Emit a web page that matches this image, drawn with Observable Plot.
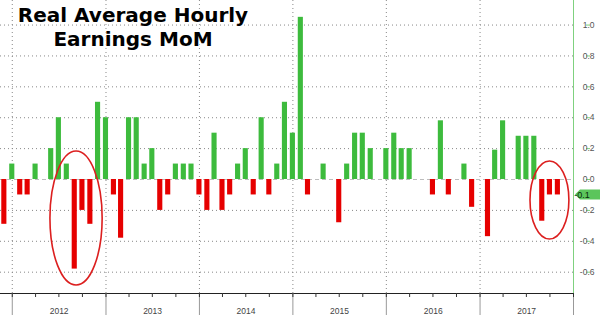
<!DOCTYPE html>
<html>
<head>
<meta charset="utf-8">
<script src="https://cdn.jsdelivr.net/npm/d3@7"></script>
<script src="https://cdn.jsdelivr.net/npm/@observablehq/plot@0.6"></script>
<style>
  html, body { margin: 0; padding: 0; background: #fff; }
  #wrap { position: relative; width: 600px; height: 318px; overflow: hidden; }
  #title {
    position: absolute; left: 0; top: 3px; width: 266px;
    text-align: center; font-family: "DejaVu Sans", sans-serif; font-weight: bold;
    font-size: 20px; line-height: 24px; color: #000;
    text-shadow: 0 0 2px #fff, 0 0 3px #fff, 0 0 4px #fff;
    pointer-events: none;
  }
</style>
</head>
<body>
<div id="wrap">
  <div id="chart"></div>
  <div id="title">Real Average Hourly<br>Earnings MoM</div>
</div>
<script>
// ---- data (one value per month, first slot = Dec 2011, last = Nov 2017) ----
const firstMonth = new Date(Date.UTC(2011, 11, 1));
const values = [
  -0.29,                                                            // 2011-12
   0.1, -0.1, -0.1, 0.1, 0, 0.2, 0.4, 0.1, -0.58, -0.2, -0.29, 0.5, // 2012
   0.4, -0.1, -0.38, 0.4, 0.4, 0.1, 0.2, -0.2, -0.1, 0.1, 0.1, 0.1, // 2013
  -0.1, -0.2, 0.3, -0.2, -0.1, 0.1, 0.2, -0.1, 0.4, -0.1, 0.1, 0.5, // 2014
   0.3, 1.05, -0.1, 0, 0.1, 0, -0.28, 0.1, 0.3, 0.3, 0.2, 0,        // 2015
   0.2, 0.3, 0.2, 0.2, 0, 0, -0.1, 0.38, -0.1, 0, 0.1, -0.18,       // 2016
   0, -0.37, 0.19, 0.38, 0, 0.28, 0.28, 0.28, -0.27, -0.1, -0.1     // 2017
];
const years = [2012, 2013, 2014, 2015, 2016, 2017];
const yTicks = [-0.6, -0.4, -0.2, 0.0, 0.2, 0.4, 0.6, 0.8, 1.0];
const xDomain = [new Date(Date.UTC(2011, 10, 16)), new Date(Date.UTC(2018, 0, 1))];
const yDomain = [-0.738, 1.159];
// annotation ellipses (bounding boxes in data units)
const ellipses = [
  {x1: new Date(Date.UTC(2012, 4, 29)), x2: new Date(Date.UTC(2012, 11, 19)), y1: 0.181, y2: -0.686},
  {x1: new Date(Date.UTC(2017, 6, 17)), x2: new Date(Date.UTC(2017, 11, 16)), y1: 0.117, y2: -0.388}
];

const GREEN = "#3dbb3d", RED = "#e60000", AXISGREEN = "#7fd17f";
const data = values.map((v, i) => ({date: d3.utcMonth.offset(firstMonth, i), value: v}));
const yearStarts = years.map(y => new Date(Date.UTC(y, 0, 1)));
const allYearEdges = yearStarts.concat([new Date(Date.UTC(2018, 0, 1))]);
const midYears = years.map(y => new Date(Date.UTC(y, 6, 2)));
const quarters = d3.utcMonth.every(3).range(new Date(Date.UTC(2012, 0, 1)), new Date(Date.UTC(2018, 0, 2)));

const chart = Plot.plot({
  width: 600,
  height: 318,
  marginTop: 0,
  marginBottom: 25,
  marginLeft: 0,
  marginRight: 27,
  style: {fontFamily: "Liberation Sans, Arial, sans-serif", fontSize: "8.5px", background: "#fff"},
  x: {type: "utc", domain: xDomain, label: null},
  y: {domain: yDomain, label: null},
  marks: [
    Plot.gridY(yTicks.filter(v => v !== 0), {stroke: "#888", strokeOpacity: 1, strokeDasharray: "1,3"}),
    Plot.gridX(yearStarts, {stroke: "#888", strokeOpacity: 1, strokeDasharray: "1,3"}),
    Plot.ruleY([0], {stroke: "#bdbdbd", strokeDasharray: "4,3"}),
    Plot.rectY(data.filter(d => d.value !== 0), {
      x1: d => d3.utcDay.offset(d.date, -10),
      x2: d => d3.utcDay.offset(d.date, 10),
      y: "value",
      fill: d => d.value > 0 ? GREEN : RED
    }),
    Plot.ruleY([yDomain[0]], {stroke: "#222"}),
    Plot.axisX(allYearEdges, {tickSize: 22, tickFormat: () => "", stroke: "#999"}),
    Plot.axisX(quarters, {tickSize: 4, tickFormat: () => "", stroke: "#333"}),
    Plot.axisX(midYears, {tickSize: 0, tickPadding: 14, tickFormat: d3.utcFormat("%Y"), fill: "#444"}),
    Plot.ruleX([xDomain[1]], {stroke: AXISGREEN}),
    Plot.axisY(yTicks, {anchor: "right", tickSize: 4, stroke: AXISGREEN, fill: "#555",
      tickFormat: d => d.toFixed(1), textAnchor: "end", dx: 12})
  ]
});

document.getElementById("chart").appendChild(chart);

// annotations through the plot's own scales
const sx = chart.scale("x"), sy = chart.scale("y");
const svg = d3.select(chart);
for (const e of ellipses) {
  const x1 = sx.apply(e.x1), x2 = sx.apply(e.x2), y1 = sy.apply(e.y1), y2 = sy.apply(e.y2);
  svg.append("ellipse")
    .attr("cx", (x1 + x2) / 2).attr("cy", (y1 + y2) / 2)
    .attr("rx", Math.abs(x2 - x1) / 2).attr("ry", Math.abs(y2 - y1) / 2)
    .attr("fill", "none").attr("stroke", "#dc1f1f").attr("stroke-width", 1.6);
}
// last-value tag on the right axis
const last = values[values.length - 1];
const ly = sy.apply(last), lx = sx.apply(xDomain[1]);
svg.append("path")
  .attr("d", `M${lx + 2},${ly} L${lx + 7},${ly - 5} H600 V${ly + 5} H${lx + 7} Z`)
  .attr("fill", "#5cc55c");
svg.append("text")
  .attr("x", lx + 9).attr("y", ly).attr("dy", "0.35em")
  .attr("font-size", "9px").attr("fill", "#0a2a0a")
  .text(last.toFixed(1));
</script>
</body>
</html>
